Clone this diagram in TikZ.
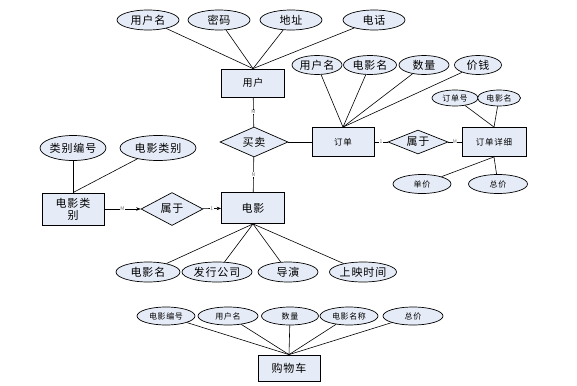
\documentclass[tikz,border=0pt]{standalone}
\usepackage{fontspec}
\setmainfont{Noto Sans CJK SC}[LetterSpace=8]
\usetikzlibrary{shapes.geometric,arrows.meta}
\definecolor{boxfill}{RGB}{230,236,247}
\definecolor{lblgray}{RGB}{110,110,110}
\begin{document}
\begin{tikzpicture}[x=1pt,y=-1pt,
  ent/.style={draw=black,fill=boxfill,line width=0.8pt,inner sep=0pt,minimum width=63pt,minimum height=28pt,font=\fontsize{10}{11}\selectfont,align=center},
  attr/.style={ellipse,draw=black,fill=boxfill,line width=0.7pt,inner sep=0pt,minimum width=62pt,minimum height=20pt,font=\fontsize{11}{12}\selectfont},
  sattr/.style={attr,minimum height=18pt,font=\fontsize{8}{9}\selectfont},
  rel/.style={diamond,draw=black,fill=boxfill,line width=0.7pt,inner sep=0pt,aspect=2.2,font=\fontsize{11}{12}\selectfont},
  conn/.style={draw=black,line width=0.6pt},
  lbl/.style={fill=white,inner sep=0.4pt,text=lblgray,font=\fontsize{5}{5}\selectfont},
  arr/.style={conn,-{Stealth[length=4.5pt,width=3.5pt]}}
]
\useasboundingbox[fill=white] (0,0) rectangle (577,385);

% ---- 用户 ----
\node[ent] (user) at (253,83) {用户};
\node[attr] (a1) at (148,20) {用户名};
\node[attr] (a2) at (219,20) {密码};
\node[attr] (a3) at (291,20) {地址};
\node[attr] (a4) at (374,20) {电话};
\foreach \n in {a1,a2,a3,a4} \draw[conn] (\n) -- (user.north);

% ---- 买卖 ----
\node[rel,minimum width=68pt,minimum height=30pt] (buy) at (254,142) {买卖};
\draw[conn] (user) -- node[lbl]{M} (buy);

% ---- 订单 ----
\node[ent,minimum width=62pt,minimum height=29pt,font=\fontsize{8.5}{9}\selectfont] (order) at (343,142) {订单};
\node[attr,minimum width=50pt,minimum height=19pt] (o1) at (317,65) {用户名};
\node[attr,minimum width=53pt,minimum height=19pt] (o2) at (370,65) {电影名};
\node[attr,minimum width=50pt,minimum height=19pt] (o3) at (424,65) {数量};
\node[attr,minimum width=47pt,minimum height=19pt] (o4) at (478,65) {价钱};
\foreach \n in {o1,o2,o3,o4} \draw[conn] (\n) -- (order.north);
\draw[conn] (buy) -- (order);

% ---- 属于 / 订单详细 ----
\node[rel,minimum width=60pt,minimum height=24pt] (bel1) at (418,142) {属于};
\node[ent,minimum width=64pt,minimum height=29pt,font=\fontsize{8.5}{9}\selectfont] (detail) at (494,142) {订单详细};
\draw[conn] (order) -- node[lbl]{1} (bel1);
\draw[conn] (bel1) -- node[lbl]{M} (detail);
\node[sattr,minimum width=46pt,minimum height=16pt] (d1) at (455,98) {订单号};
\node[sattr,minimum width=43pt,minimum height=16pt] (d2) at (499,98) {电影名};
\node[sattr,minimum width=58pt,minimum height=19pt] (d3) at (422,184) {单价};
\node[sattr,minimum width=59pt,minimum height=19pt] (d4) at (498,184) {总价};
\draw[conn] (d1) -- (detail.north);
\draw[conn] (d2) -- (detail.north);
\draw[conn] (detail.south) -- (d3);
\draw[conn] (detail.south) -- (d4);

% ---- 电影类别 ----
\node[ent,minimum width=62pt,minimum height=32pt,font=\fontsize{11}{12}\selectfont] (cat) at (73,209) {电影类\\别};
\node[attr,minimum width=64pt,minimum height=25pt] (c1) at (73,148) {类别编号};
\node[attr,minimum width=76pt,minimum height=25pt] (c2) at (158,148) {电影类别};
\draw[conn] (c1) -- (cat.north);
\draw[conn] (c2) -- (cat.north);

% ---- 属于 / 电影 ----
\node[rel,minimum width=62pt,minimum height=33pt] (bel2) at (172,209) {属于};
\node[ent,minimum width=63pt,minimum height=31pt,font=\fontsize{11}{12}\selectfont] (movie) at (253,208) {电影};
\draw[arr] (cat) -- node[lbl]{M} (bel2);
\draw[arr] (bel2) -- node[lbl]{1} (movie);
\draw[conn] (buy) -- node[lbl]{N} (movie);
\node[attr,minimum width=64pt] (m1) at (148,272) {电影名};
\node[attr,minimum width=70pt] (m2) at (217,272) {发行公司};
\node[attr,minimum width=60pt] (m3) at (288,272) {导演};
\node[attr,minimum width=67pt] (m4) at (363,272) {上映时间};
\foreach \n in {m1,m2,m3,m4} \draw[conn] (movie.south) -- (\n);

% ---- 购物车 ----
\node[ent,minimum width=62pt,minimum height=26pt,font=\fontsize{11}{12}\selectfont] (cart) at (289,368) {购物车};
\node[sattr,minimum width=58pt] (k1) at (166,316) {电影编号};
\node[sattr,minimum width=60pt] (k2) at (228,316) {用户名};
\node[sattr,minimum width=57pt] (k3) at (290,316) {数量};
\node[sattr,minimum width=58pt] (k4) at (349,316) {电影名称};
\node[sattr,minimum width=60pt] (k5) at (413,316) {总价};
\foreach \n in {k1,k2,k3,k4,k5} \draw[conn] (\n) -- (cart.north);
\end{tikzpicture}
\end{document}
